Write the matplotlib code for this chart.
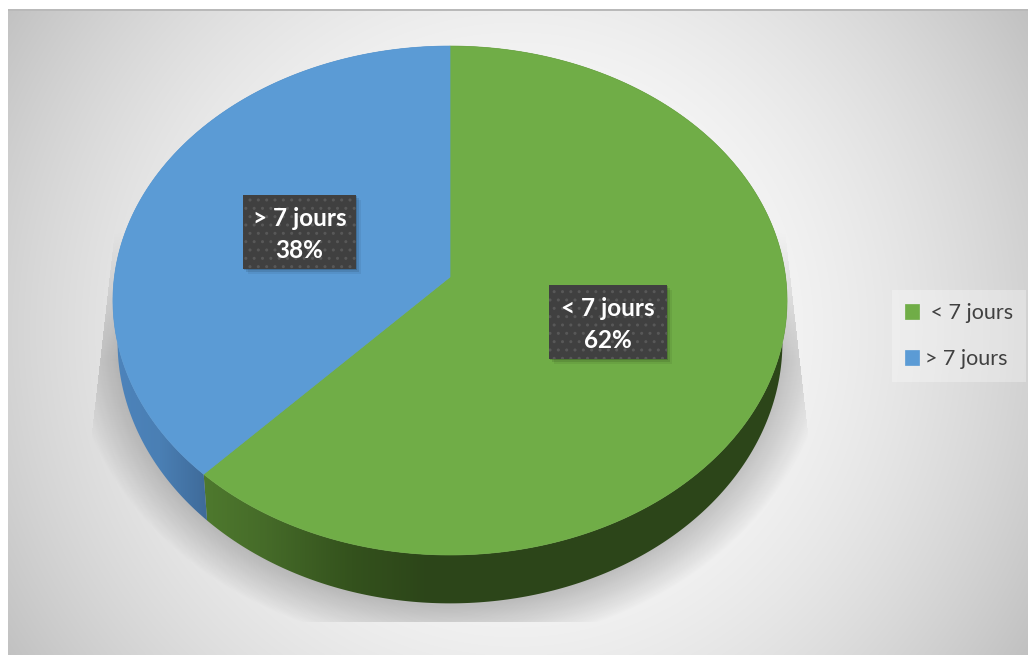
#!/usr/bin/env python3
"""
Tilted 3D style pie chart, < 7 jours vs > 7 jours
"""

import numpy as np
import matplotlib
matplotlib.use('Agg')
import matplotlib.pyplot as plt
from matplotlib.colors import LinearSegmentedColormap
from matplotlib.patches import Polygon, Rectangle

labels = ['< 7 jours', '> 7 jours']
legend_labels = [' < 7 jours', '> 7 jours']
values = [62, 38]
colors = ['#70ad47', '#5b9bd5']

W, H = 1028, 655
plt.rcParams['font.family'] = ['Lato', 'DejaVu Sans']


def project(theta_deg, cy, a, b, p=0.0924):
    """Perspective projection of the unit circle to pixel coordinates"""
    t = np.radians(theta_deg)
    u, v = np.cos(t), np.sin(t)
    w = 1 + p * v
    return 450 + a * u / w, cy - b * v / w


def top_arc(theta1, theta2):
    return project(np.linspace(theta1, theta2, 300), 277, 335.6, 252.3)


def bottom_arc(theta1, theta2):
    return project(np.linspace(theta1, theta2, 300), 318, 331, 259)


fig = plt.figure(figsize=(W / 100, H / 100), dpi=100, facecolor='white')

# the pie itself gives the wedge angles, then we tilt them ourselves
pie_ax = fig.add_axes([0, 0, 1, 1])
wedges = pie_ax.pie(values, startangle=90, counterclock=False, colors=colors)[0]
pie_ax.set_visible(False)

ax = fig.add_axes([0, 0, 1, 1])
ax.set_xlim(0, W)
ax.set_ylim(H, 0)
ax.axis('off')

# background, radial grey gradient
xx, yy = np.meshgrid(np.arange(W) + 0.5, np.arange(H) + 0.5)
r2 = ((xx - 516) ** 2 + (yy - 330) ** 2) / (516 ** 2 + 325 ** 2)
grey = np.clip(1 - 63 / 255 * r2, 0, 1)
bg = ax.imshow(np.dstack([grey, grey, grey]), extent=(0, W, H, 0), aspect='auto', zorder=0)
bg.set_clip_path(Rectangle((8, 10), W - 8, H - 10, transform=ax.transData))
ax.add_patch(Rectangle((8, 9), W - 8, 2, facecolor='#b9b9b9', edgecolor='none', zorder=1))

# soft shadow of the pie
d = (np.sqrt(((xx - 450) / 332) ** 2 + ((yy - 327) / 279) ** 2) - 1) * 300
strength = np.clip(1 - d / 45, 0, 1) ** 0.9 * np.clip((yy - 230) / 130, 0, 1)
left = 115 - 25 * (yy - 230) / 220
right = 785 + 25 * (yy - 230) / 220
strength[(xx < left) | (xx > right) | (yy > 622)] = 0
shadow = np.zeros((H, W, 4))
shadow[..., 3] = 0.22 * strength
ax.imshow(shadow, extent=(0, W, H, 0), aspect='auto', zorder=2)

# outer side of the slices
side_stops = [
    [(199, '#4f7a2e'), (260, '#466c29'), (350, '#34521d'), (430, '#2c4519'), (800, '#2c4519')],
    [(112, '#4d84bc'), (160, '#4a7fb4'), (206, '#3f6b9a')],
]
grad_x = np.arange(W) + 0.5
tops = []
for wedge, stops, color in zip(wedges, side_stops, colors):
    x1, y1 = top_arc(wedge.theta1, wedge.theta2)
    x2, y2 = bottom_arc(wedge.theta1, wedge.theta2)
    poly = Polygon(np.column_stack([np.r_[x1, x2[::-1]], np.r_[y1, y2[::-1]]]),
                   facecolor='none', edgecolor='none', zorder=3)
    ax.add_patch(poly)
    lo, hi = stops[0][0], stops[-1][0]
    cmap = LinearSegmentedColormap.from_list(
        'side', [((s[0] - lo) / (hi - lo), s[1]) for s in stops])
    img = ax.imshow(np.clip((grad_x - lo) / (hi - lo), 0, 1)[None, :], cmap=cmap, vmin=0, vmax=1,
                    extent=(0, W, H, 0), aspect='auto', zorder=3)
    img.set_clip_path(poly)

    tx, ty = top_arc(wedge.theta1, wedge.theta2)
    top = Polygon(np.column_stack([np.r_[450, tx], np.r_[277, ty]]), closed=True,
                  facecolor=color, edgecolor=color, linewidth=0.5, zorder=4)
    ax.add_patch(top)
    tops.append(top)

# data labels
label_boxes = [(549, 285, 118, 74), (243, 195, 113, 74)]
for label, value, (bx, by, bw, bh) in zip(labels, values, label_boxes):
    for off, alpha in [(7, 0.06), (5, 0.1), (3, 0.16)]:
        ax.add_patch(Rectangle((bx + off - 2, by + off - 2), bw, bh, facecolor='black',
                               edgecolor='none', alpha=alpha, zorder=5))
    ax.add_patch(Rectangle((bx, by), bw, bh, facecolor='#404040', edgecolor='#585858',
                           hatch='..', linewidth=0, zorder=6))
    ax.text(bx + bw / 2, by + 24, label, color='white', fontsize=17.5, fontweight='bold',
            ha='center', va='center', zorder=7)
    ax.text(bx + bw / 2, by + 56, f'{value}%', color='white', fontsize=17.5, fontweight='bold',
            ha='center', va='center', zorder=7)

leg = ax.legend(tops, legend_labels, loc='upper left', bbox_to_anchor=(892, 290),
                bbox_transform=ax.transData, borderaxespad=0, fontsize=15.5, frameon=True,
                fancybox=False, framealpha=0.3, facecolor='white', edgecolor='none',
                labelcolor='#404040', handlelength=0.65, handleheight=0.65, handletextpad=0.28,
                labelspacing=1.22, borderpad=0.6)
leg.set_zorder(8)

plt.savefig('out.png', dpi=100)
